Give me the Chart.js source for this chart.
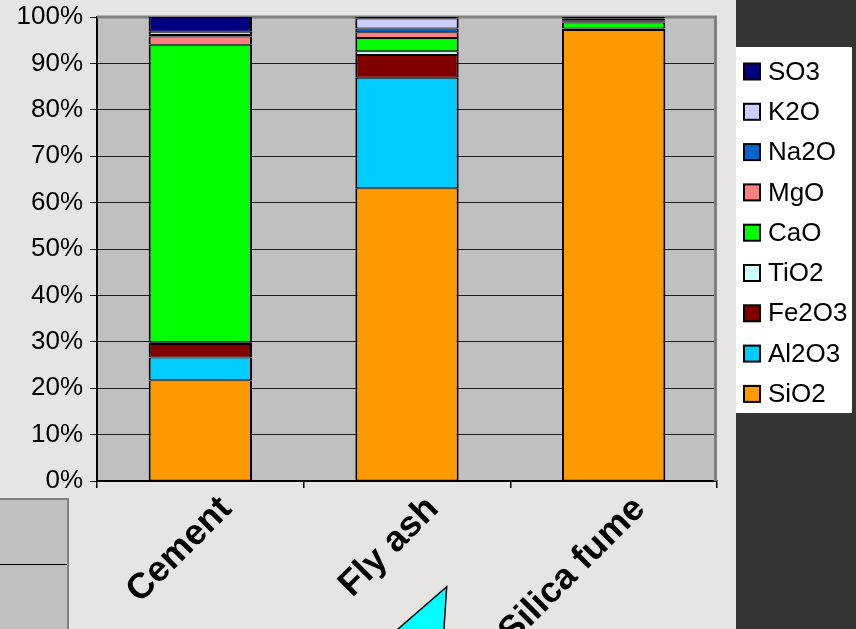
<!DOCTYPE html>
<html><head><meta charset="utf-8">
<script src="https://cdn.jsdelivr.net/npm/chart.js@4/dist/chart.umd.min.js"></script>
<style>html,body{margin:0;padding:0;background:#e6e5e4;overflow:hidden}#wrap{width:856px;height:629px;position:relative}</style>
</head><body><div id="wrap"><canvas id="c" width="856" height="629"></canvas></div>
<script>
// ---- data ----
const categories = ['Cement', 'Fly ash', 'Silica fume'];
const seriesNames = ['SiO2', 'Al2O3', 'Fe2O3', 'TiO2', 'CaO', 'MgO', 'Na2O', 'K2O', 'SO3'];
const SiO2  = [21.7, 63.1, 97.2];
const Al2O3 = [4.9, 23.8, 0.2];
const Fe2O3 = [2.9, 4.9, 0.1];
const TiO2  = [0.4, 0.8, 0.0];
const CaO   = [64.1, 2.9, 1.3];
const MgO   = [1.8, 1.2, 0.3];
const Na2O  = [0.3, 0.8, 0.2];
const K2O   = [0.7, 2.2, 0.4];
const SO3   = [3.2, 0.3, 0.3];
const yTickValues = [0, 10, 20, 30, 40, 50, 60, 70, 80, 90, 100];

const seriesValues = [SiO2, Al2O3, Fe2O3, TiO2, CaO, MgO, Na2O, K2O, SO3];
const seriesColors = ['#ff9900', '#00ccff', '#800000', '#ccffff', '#00ff00', '#ff8080', '#0066cc', '#ccccff', '#000080'];

const FONT = '"Liberation Sans", Arial, sans-serif';

const decor = {
  id: 'decor',
  beforeDraw(chart) {
    const ctx = chart.ctx, a = chart.chartArea;
    ctx.save();
    ctx.fillStyle = '#e6e5e4';
    ctx.fillRect(0, 0, 856, 629);
    ctx.fillStyle = '#363435';
    ctx.fillRect(736, 0, 120, 629);
    ctx.fillStyle = '#ffffff';
    ctx.fillRect(736, 47, 116, 366);
    ctx.fillStyle = '#c0c0c0';
    ctx.fillRect(a.left, a.top, a.right - a.left, a.bottom - a.top);
    // bottom-left box
    ctx.fillStyle = '#c0c0c0';
    ctx.fillRect(0, 498, 69, 131);
    ctx.strokeStyle = '#808080';
    ctx.lineWidth = 2;
    ctx.beginPath();
    ctx.moveTo(0, 499); ctx.lineTo(68, 499); ctx.lineTo(68, 629);
    ctx.stroke();
    ctx.strokeStyle = '#000';
    ctx.lineWidth = 1;
    ctx.beginPath();
    ctx.moveTo(0, 564.5); ctx.lineTo(67, 564.5);
    ctx.stroke();
    ctx.restore();
  },
  beforeDatasetsDraw(chart) {
    const ctx = chart.ctx, a = chart.chartArea;
    ctx.save();
    ctx.strokeStyle = '#808080';
    ctx.lineWidth = 3;
    ctx.beginPath();
    ctx.moveTo(a.left, a.top);
    ctx.lineTo(a.right - 1.5, a.top);
    ctx.lineTo(a.right - 1.5, a.bottom);
    ctx.stroke();
    ctx.restore();
  },
  afterDraw(chart) {
    const ctx = chart.ctx;
    ctx.save();
    // triangle
    ctx.fillStyle = '#00ffff';
    ctx.strokeStyle = '#000';
    ctx.lineWidth = 1.5;
    ctx.beginPath();
    ctx.moveTo(446.7, 586.7);
    ctx.lineTo(390, 636);
    ctx.lineTo(443.5, 636);
    ctx.closePath();
    ctx.fill();
    ctx.stroke();
    // legend
    const ds = chart.data.datasets;
    ctx.font = '26px ' + FONT;
    ctx.textBaseline = 'middle';
    ctx.textAlign = 'left';
    for (let k = 0; k < ds.length; k++) {
      const d = ds[ds.length - 1 - k];
      const y = 71.5 + k * 40.3;
      ctx.fillStyle = d.backgroundColor;
      ctx.fillRect(744, y - 8, 16, 16);
      ctx.strokeStyle = '#000';
      ctx.lineWidth = 2;
      ctx.strokeRect(744, y - 8, 16, 16);
      ctx.fillStyle = '#000';
      ctx.fillText(d.label, 768, y + 1);
    }
    ctx.restore();
  }
};

new Chart(document.getElementById('c'), {
  type: 'bar',
  data: {
    labels: categories,
    datasets: seriesNames.map((n, i) => ({
      label: n,
      data: seriesValues[i],
      backgroundColor: seriesColors[i],
      borderColor: '#000',
      borderWidth: {top: 1, bottom: 1, left: 2, right: 2},
      borderSkipped: false,
      categoryPercentage: 1,
      barPercentage: 0.5
    }))
  },
  options: {
    responsive: false,
    animation: false,
    layout: {padding: {left: 0, top: 17, right: 139, bottom: 0}},
    plugins: {legend: {display: false}, tooltip: {enabled: false}},
    scales: {
      x: {
        stacked: true,
        afterFit(s) { s.height = 148; s.paddingLeft = 0; s.paddingRight = 0; },
        grid: {display: true, drawOnChartArea: false, drawTicks: true, tickLength: 7, color: '#000', lineWidth: 1.5, offset: true},
        border: {display: true, color: '#000', width: 2},
        ticks: {
          color: '#000', autoSkip: false, minRotation: 45, maxRotation: 45,
          labelOffset: 26, padding: 0,
          font: {family: FONT, size: 36, weight: 'bold'}
        }
      },
      y: {
        stacked: true,
        min: 0, max: 100,
        afterFit(s) { s.width = 97; s.paddingTop = 0; s.paddingBottom = 0; },
        afterBuildTicks(s) { s.ticks = yTickValues.map(v => ({value: v})); },
        grid: {color: '#1a1a1a', lineWidth: 1, tickLength: 7, drawTicks: true},
        border: {display: true, color: '#000', width: 2},
        ticks: {
          color: '#000', padding: 7,
          font: {family: FONT, size: 26},
          callback: v => v + '%'
        }
      }
    }
  },
  plugins: [decor]
});
</script>
</body></html>
